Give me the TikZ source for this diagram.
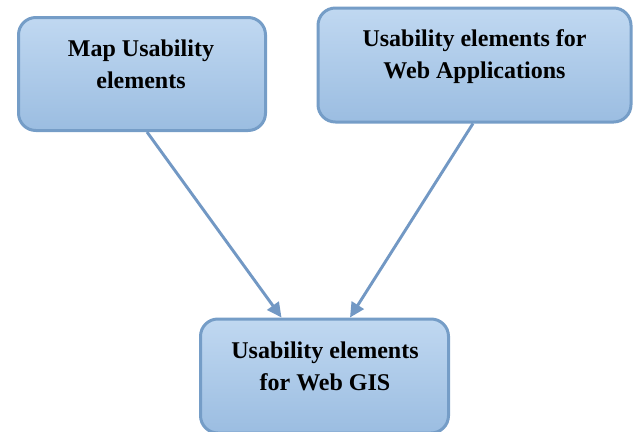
\documentclass[tikz,border=0pt]{standalone}
\usepackage{fontspec}
\setmainfont{Liberation Serif}
\usetikzlibrary{arrows.meta,calc}
\definecolor{boxedge}{RGB}{117,157,199}
\definecolor{boxtop}{RGB}{192,216,241}
\definecolor{boxbot}{RGB}{155,189,225}
\definecolor{linkcol}{RGB}{114,152,196}
\begin{document}
\begin{tikzpicture}[x=0.75pt,y=-0.75pt,
  panel/.style={draw=boxedge, line width=2.25pt, rounded corners=13pt,
    top color=boxtop, bottom color=boxbot, inner sep=0pt},
  caption/.style={font=\fontsize{18}{24}\selectfont\bfseries, align=center,
    inner sep=0pt, anchor=center},
  link/.style={draw=linkcol, line width=2.2pt,
    -{Triangle[length=11pt,width=10.5pt]}}]
\useasboundingbox (0,0) rectangle (633,432);

% the three element boxes
\node[panel, minimum width=185.25pt, minimum height=84.75pt] (map) at (142,74) {};
\node[panel, minimum width=234.75pt, minimum height=85.5pt] (web) at (474.5,65) {};
\node[panel, minimum width=186pt, minimum height=85.5pt] (gis) at (324.5,376) {};

% their captions
\node[caption] (maptext) at (141,64) {Map Usability\\elements};
\node[caption] (webtext) at (474.5,57) {Usability elements for\\Web Applications};
\node[caption] (gistext) at (325,366) {Usability elements\\for Web GIS};

% connectors into the Web GIS box
\draw[link] ($(map.south)+(5,0)$) -- ($(gis.north)+(-43,0)$);
\draw[link] ($(web.south)+(-1.5,0)$) -- ($(gis.north)+(25.5,0)$);
\end{tikzpicture}
\end{document}
